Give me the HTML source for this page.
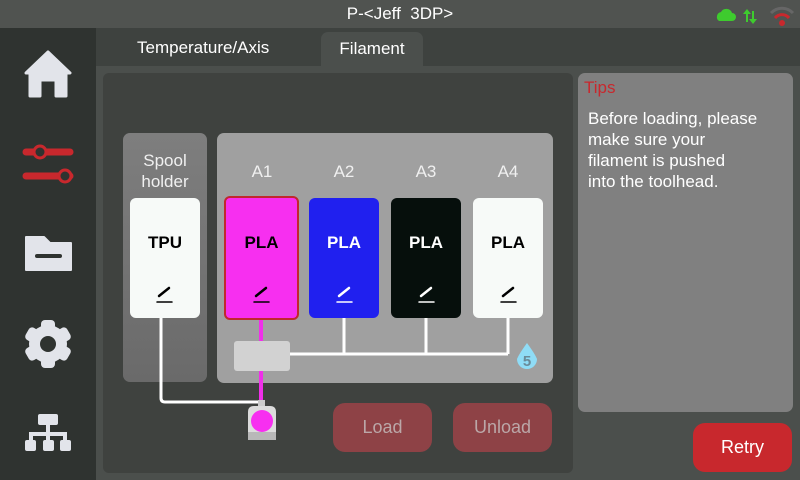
<!DOCTYPE html>
<html><head><meta charset="utf-8"><style>
*{margin:0;padding:0;box-sizing:border-box}
body{width:800px;height:480px;overflow:hidden;background:#3e423f;font-family:"Liberation Sans","DejaVu Sans",sans-serif;position:relative;color:#fff}
.a{position:absolute}
.card{position:absolute;border-radius:6px;text-align:center;font-size:17px;font-weight:bold}
.lbl{position:absolute;font-size:17px;color:#f0f0f0;text-align:center;width:40px}
.btn{position:absolute;border-radius:12px;font-size:18px;text-align:center;line-height:49px}
</style></head><body>
<div class="a" style="left:0;top:0;width:800px;height:28px;background:#505350;text-align:center;font-size:17px;line-height:28px">P-&lt;Jeff&nbsp; 3DP&gt;</div>
<svg class="a" style="left:715px;top:3px" width="85" height="24">
<path d="M4 18 a5 5 0 0 1 2-9 a6 6 0 0 1 11 1 a4 4 0 0 1 0 8z" fill="#3ecb2e"/>
<path d="M32 6 l-4 5 h3 v8 h2 v-8 h3z M38 21 l4-5 h-3 v-8 h-2 v8 h-3z" fill="#3ecb2e"/>
<path d="M56 10 a15 15 0 0 1 22 0" stroke="#666" stroke-width="3" fill="none"/>
<path d="M60 15 a9 9 0 0 1 14 0" stroke="#c8282d" stroke-width="3" fill="none"/>
<circle cx="67" cy="20" r="3" fill="#c8282d"/>
</svg>
<div class="a" style="left:0;top:28px;width:96px;height:452px;background:#2f3330"></div>
<svg class="a" style="left:0;top:28px" width="96" height="452">
<path d="M48 24 L70 45 H66 V68 H56 V52 H40 V68 H30 V45 H26Z" fill="#e2e4ea" stroke="#e2e4ea" stroke-linejoin="round" stroke-width="3"/>
<line x1="26" y1="124" x2="70" y2="124" stroke="#c8282d" stroke-width="7" stroke-linecap="round"/>
<circle cx="40" cy="124" r="6" fill="#2f3330" stroke="#c8282d" stroke-width="3"/>
<line x1="26" y1="148" x2="70" y2="148" stroke="#c8282d" stroke-width="7" stroke-linecap="round"/>
<circle cx="65" cy="148" r="6" fill="#2f3330" stroke="#c8282d" stroke-width="3"/>
<path d="M26 209 H44 L50 215 H71 V242 H26Z" fill="#e2e4ea" stroke="#e2e4ea" stroke-linejoin="round" stroke-width="2"/>
<rect x="35" y="226" width="27" height="4" fill="#2f3330" rx="2"/>
<g transform="translate(48,316)"><circle r="19" fill="#e2e4ea"/><g fill="#e2e4ea"><rect x="-7" y="-24" width="14" height="10" rx="4"/><rect x="-7" y="14" width="14" height="10" rx="4"/><rect x="-7" y="-24" width="14" height="10" rx="4" transform="rotate(60)"/><rect x="-7" y="14" width="14" height="10" rx="4" transform="rotate(60)"/><rect x="-7" y="-24" width="14" height="10" rx="4" transform="rotate(120)"/><rect x="-7" y="14" width="14" height="10" rx="4" transform="rotate(120)"/></g><circle r="8" fill="#2f3330"/></g>
<g fill="#e2e4ea"><rect x="38" y="386" width="20" height="11" rx="2"/><rect x="46" y="396" width="4" height="10"/><rect x="29" y="404" width="38" height="4"/><rect x="29" y="404" width="4" height="10"/><rect x="46" y="404" width="4" height="10"/><rect x="63" y="404" width="4" height="10"/><rect x="25" y="412" width="11" height="11" rx="2"/><rect x="43" y="412" width="11" height="11" rx="2"/><rect x="60" y="412" width="11" height="11" rx="2"/></g>
</svg>
<div class="a" style="left:96px;top:66px;width:704px;height:414px;background:#4b4f4c"></div>
<div class="a" style="left:137px;top:38px;font-size:17px">Temperature/Axis</div>
<div class="a" style="left:321px;top:32px;width:102px;height:36px;background:#4b4f4c;border-radius:7px 7px 0 0;text-align:center;font-size:17px;line-height:34px">Filament</div>
<div class="a" style="left:103px;top:73px;width:470px;height:400px;background:#3f423f;border-radius:6px"></div>
<div class="a" style="left:578px;top:73px;width:215px;height:339px;background:#808080;border-radius:7px"></div>
<div class="a" style="left:584px;top:78px;color:#c8282d;font-size:17px">Tips</div>
<div class="a" style="left:588px;top:108px;font-size:17px;line-height:21px;width:205px;white-space:nowrap">Before loading, please<br>make sure your<br>filament is pushed<br>into the toolhead.</div>
<div class="a" style="left:123px;top:133px;width:84px;height:249px;border-radius:7px;background:linear-gradient(#7e7e7e,#6a6a6a)"></div>
<div class="a" style="left:123px;top:150px;width:84px;text-align:center;font-size:17px;line-height:21px;color:#f0f0f0">Spool<br>holder</div>
<div class="a" style="left:217px;top:133px;width:336px;height:250px;border-radius:7px;background:#a0a0a0"></div>
<div class="lbl" style="left:242px;top:162px">A1</div>
<div class="lbl" style="left:324px;top:162px">A2</div>
<div class="lbl" style="left:406px;top:162px">A3</div>
<div class="lbl" style="left:488px;top:162px">A4</div>
<svg class="a" style="left:0;top:0" width="800" height="480">
<g fill="none" stroke="#fff" stroke-width="3">
<path d="M161 318 V398 Q161 402 165 402 H258"/>
<path d="M290 354 H508 M344 318 V354 M426 318 V354 M508 318 V354"/>
</g>
<line x1="261" y1="318" x2="261" y2="405" stroke="#f02fea" stroke-width="4"/>
<rect x="234" y="341" width="56" height="30" rx="3" fill="#d2d2d2"/>
<rect x="258" y="400" width="7" height="8" fill="#ccc"/>
<path d="M248 412 Q248 406 254 406 H270 Q276 406 276 412 V437 Q276 440 270 440 H254 Q248 440 248 437Z" fill="#dcdcdc"/>
<rect x="248" y="432" width="28" height="8" fill="#b8b8b8"/>
<circle cx="262" cy="421" r="11" fill="#f72ff0"/>
<path d="M527 343 Q519 354 517 359 A10 10 0 1 0 537 359 Q535 354 527 343Z" fill="#8fdcf6"/>
<text x="527" y="366" font-size="15" font-weight="bold" fill="#6a8a98" text-anchor="middle" font-family="Liberation Sans">5</text>
</svg>
<div class="card" style="left:130px;top:198px;width:70px;height:120px;background:#f7faf8;color:#000;padding-top:35px">TPU</div>
<div class="card" style="left:224px;top:196px;width:75px;height:124px;background:#f72ff0;color:#000;border:2px solid #c0282d;padding-top:35px">PLA</div>
<div class="card" style="left:309px;top:198px;width:70px;height:120px;background:#2020ef;color:#fff;padding-top:35px">PLA</div>
<div class="card" style="left:391px;top:198px;width:70px;height:120px;background:#060f0c;color:#fff;padding-top:35px">PLA</div>
<div class="card" style="left:473px;top:198px;width:70px;height:120px;background:#f7faf8;color:#000;padding-top:35px">PLA</div>
<svg class="a" style="left:0;top:0" width="800" height="480">
<g stroke-width="2.5" stroke-linecap="round">
<path d="M159 296 L169 288" stroke="#000"/><line x1="157" y1="302" x2="172" y2="302" stroke="#000" stroke-width="1.5"/>
<path d="M256 296 L266 288" stroke="#000"/><line x1="254" y1="302" x2="269" y2="302" stroke="#000" stroke-width="1.5"/>
<path d="M339 296 L349 288" stroke="#fff"/><line x1="337" y1="302" x2="352" y2="302" stroke="#fff" stroke-width="1.5"/>
<path d="M421 296 L431 288" stroke="#fff"/><line x1="419" y1="302" x2="434" y2="302" stroke="#fff" stroke-width="1.5"/>
<path d="M503 296 L513 288" stroke="#000"/><line x1="501" y1="302" x2="516" y2="302" stroke="#000" stroke-width="1.5"/>
</g></svg>
<div class="btn" style="left:333px;top:403px;width:99px;height:49px;background:#8e4246;color:#bba7a8">Load</div>
<div class="btn" style="left:453px;top:403px;width:99px;height:49px;background:#8e4246;color:#bba7a8">Unload</div>
<div class="btn" style="left:693px;top:423px;width:99px;height:49px;background:#c8282d;color:#fff">Retry</div>
</body></html>
